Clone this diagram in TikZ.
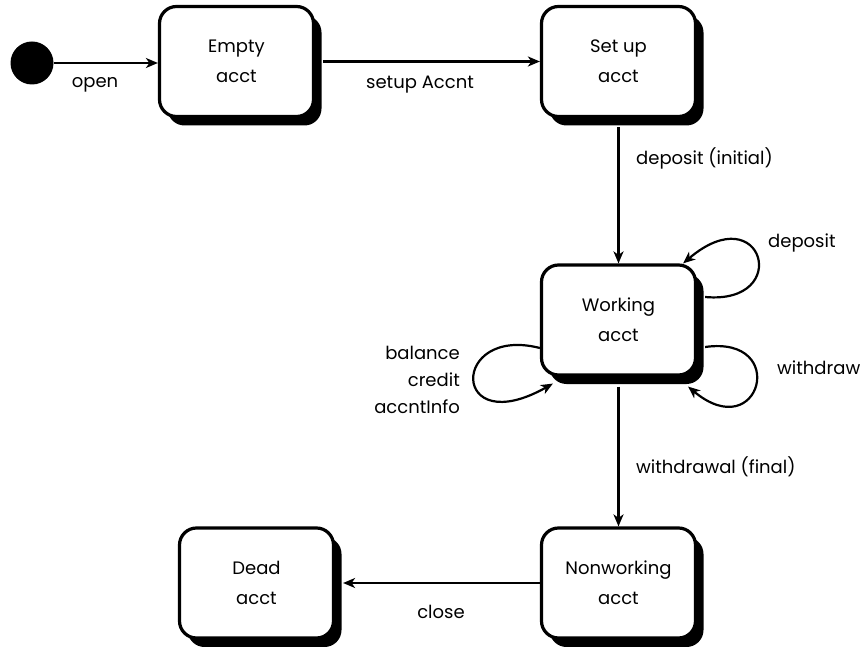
\documentclass[tikz,border=0pt]{standalone}
\usepackage{fontspec}
\setmainfont{Poppins}
\usetikzlibrary{arrows.meta,shadows,calc}
\begin{document}
\begin{tikzpicture}[x=1pt,y=-1pt,
  state/.style={draw, line width=3.2pt, rounded corners=17pt, fill=white,
    minimum width=154pt, minimum height=110pt, align=center,
    font=\fontsize{18}{30}\selectfont,
    drop shadow={shadow xshift=8pt, shadow yshift=-9pt, opacity=1, fill=black}},
  trans/.style={line width=2.2pt, -{Stealth[length=12pt,width=10pt,inset=3.5pt]}},
  lbl/.style={font=\fontsize{18}{27}\selectfont, inner sep=0pt}]
\useasboundingbox (0,0) rectangle (868,647);
\node[circle, fill=black, minimum size=43pt, inner sep=0pt] (init) at (32,63) {};
\node[state] (E) at (236.5,61.5) {Empty\\acct};
\node[state] (S) at (618.5,61.5) {Set up\\acct};
\node[state] (W) at (618.5,320) {Working\\acct};
\node[state] (N) at (618.5,583) {Nonworking\\acct};
\node[state] (D) at (256.5,583) {Dead\\acct};

\draw[trans] (init.east) -- (init.east -| E.west);
\draw[trans] ([xshift=8pt]E.east) -- (S.west);
\draw[trans] ([yshift=-9pt]S.south) -- (W.north);
\draw[trans] ([yshift=-10pt]W.south) -- (N.north);
\draw[trans] (N.west) -- ([xshift=8pt]D.east);

\draw[trans] ($(W.east)+(8,-23)$) .. controls +(88,8) and +(80,-68) .. ($(W.north east)+(-14,0)$);
\draw[trans] ($(W.east)+(8,27)$) .. controls +(85,-12) and +(72,60) .. ($(W.south east)+(-9,10)$);
\draw[trans] ($(W.west)+(0,28)$) .. controls +(-90,-23) and +(-103,58) .. ($(W.south west)+(13,7)$);

\node[lbl] (lopen) at (95,85) {open};
\node[lbl] (lsetup) at (420,85) {setup Accnt};
\node[lbl, anchor=west] (linit) at (636,158) {deposit (initial)};
\node[lbl, anchor=west] (ldep) at (768,243) {deposit};
\node[lbl, anchor=west] (lwd) at (777,368) {withdraw};
\node[lbl, anchor=east, align=right] (lbal) at (460,380) {balance\\credit\\accntInfo};
\node[lbl, anchor=west] (lfinal) at (636,467) {withdrawal (final)};
\node[lbl] (lclose) at (441,612) {close};
\end{tikzpicture}
\end{document}
